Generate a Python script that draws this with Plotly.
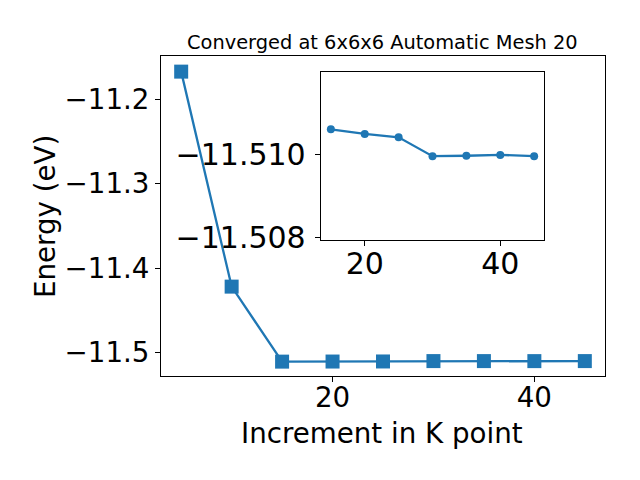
import plotly.graph_objects as go

# Data
kpoints = [5, 10, 15, 20, 25, 30, 35, 40, 45]
energy = [-11.1673, -11.4218, -11.51059, -11.51048, -11.51040,
          -11.50995, -11.50996, -11.50998, -11.50995]
inset_k = kpoints[2:]
inset_energy = energy[2:]

main_yticks = [-11.2, -11.3, -11.4, -11.5]
main_xticks = [20, 40]
inset_yticks = [-11.510, -11.508]
inset_xticks = [20, 40]

title_text = "Converged at 6x6x6 Automatic Mesh 20"
xlabel = "Increment in K point"
ylabel = "Energy (eV)"

BLUE = "#1f77b4"
FONT = "DejaVu Sans"
OFF = 8  # page body margin
W, H = 640 - 2 * OFF, 480 - 2 * OFF


def px_x(p):
    return (p - OFF) / W


def px_y(p):
    return 1 - (p - OFF) / H


fig = go.Figure()
fig.add_trace(go.Scatter(
    x=kpoints, y=energy, mode="lines+markers",
    line=dict(color=BLUE, width=2.3),
    marker=dict(symbol="square", size=14, color=BLUE),
    xaxis="x", yaxis="y", showlegend=False))
fig.add_trace(go.Scatter(
    x=inset_k, y=inset_energy, mode="lines+markers",
    line=dict(color=BLUE, width=2.3),
    marker=dict(symbol="circle", size=8, color=BLUE),
    xaxis="x2", yaxis="y2", showlegend=False))


def axis_style(size):
    return dict(showgrid=False, zeroline=False, showline=True, linecolor="black",
                linewidth=1, mirror=True, ticks="outside", ticklen=5, tickwidth=1,
                tickcolor="black", tickfont=dict(family=FONT, size=size, color="black"))


fig.update_layout(
    width=W, height=H,
    margin=dict(l=0, r=0, t=0, b=0),
    paper_bgcolor="white", plot_bgcolor="white",
    font=dict(family=FONT, color="black"),
    xaxis=dict(domain=[px_x(161), px_x(605)], range=[3, 47], tickvals=main_xticks,
               anchor="y", automargin=False, ticklabelstandoff=-8, **axis_style(27.7)),
    yaxis=dict(domain=[px_y(376), px_y(56)], range=[-11.5276, -11.1488],
               tickvals=main_yticks, tickformat=".1f", anchor="x", automargin=False,
               **axis_style(27.7)),
    xaxis2=dict(domain=[px_x(320.7), px_x(544.3)], range=[13.5, 46.5],
                tickvals=inset_xticks, anchor="y2", automargin=False,
                ticklabelstandoff=-8, **axis_style(30)),
    yaxis2=dict(domain=[px_y(240), px_y(72.3)], range=[-11.50795, -11.51195],
                tickvals=inset_yticks, tickformat=".3f", anchor="x2", automargin=False,
                ticklabelstandoff=3, **axis_style(30)),
    annotations=[
        dict(text=title_text, x=px_x(382), y=px_y(42), xref="paper", yref="paper",
             xanchor="center", yanchor="middle", showarrow=False,
             font=dict(family=FONT, size=19.4, color="black")),
        dict(text=xlabel, x=px_x(382.3), y=px_y(433), xref="paper", yref="paper",
             xanchor="center", yanchor="middle", showarrow=False,
             font=dict(family=FONT, size=27.7, color="black")),
        dict(text=ylabel, x=px_x(45), y=px_y(217), xref="paper", yref="paper",
             xanchor="center", yanchor="middle", showarrow=False, textangle=-90,
             font=dict(family=FONT, size=27.7, color="black")),
    ],
)

fig.write_html("out.html")
